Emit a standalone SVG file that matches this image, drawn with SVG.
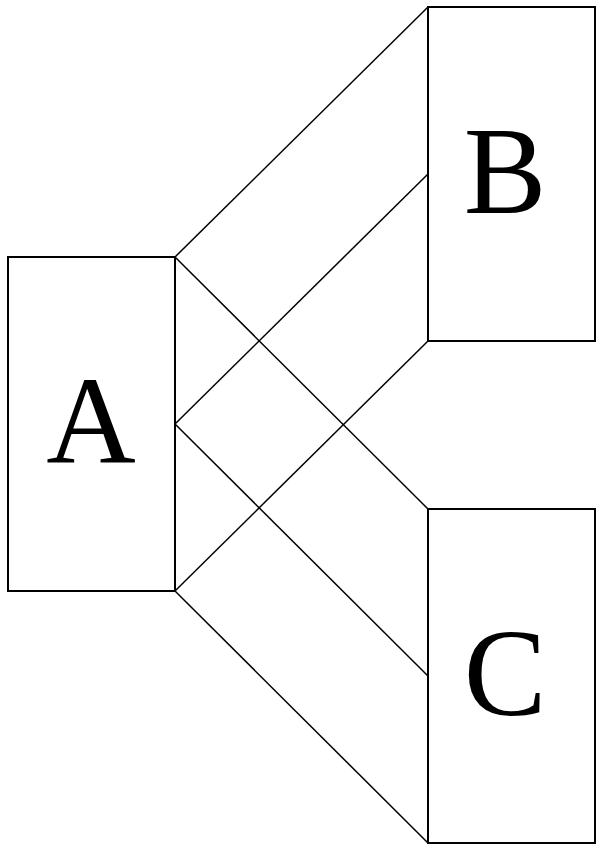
<svg xmlns="http://www.w3.org/2000/svg" width="600" height="849" viewBox="0 0 600 849">
<style>
.box{fill:#fff;stroke:#000;stroke-width:2}
.lbl{font-family:"Liberation Serif","DejaVu Serif",serif;font-size:124px;text-anchor:middle;fill:#000}
.edge{stroke:#000;stroke-width:1.5;fill:none}
</style>
<rect width="600" height="849" fill="#fff"/>
<g id="connectors">
<line class="edge" x1="175" y1="257" x2="428" y2="7"/>
<line class="edge" x1="175" y1="424" x2="428" y2="174"/>
<line class="edge" x1="175" y1="591" x2="428" y2="341"/>
<line class="edge" x1="175" y1="257" x2="428" y2="509"/>
<line class="edge" x1="175" y1="424" x2="428" y2="676"/>
<line class="edge" x1="175" y1="591" x2="428" y2="843"/>
</g>
<g id="A">
<rect class="box" x="8" y="257" width="167" height="334"/>
<text class="lbl" x="91" y="463">A</text>
</g>
<g id="B">
<rect class="box" x="428" y="7" width="167" height="334"/>
<text class="lbl" x="505" y="213">B</text>
</g>
<g id="C">
<rect class="box" x="428" y="509" width="167" height="334"/>
<text class="lbl" x="505" y="715">C</text>
</g>
</svg>
